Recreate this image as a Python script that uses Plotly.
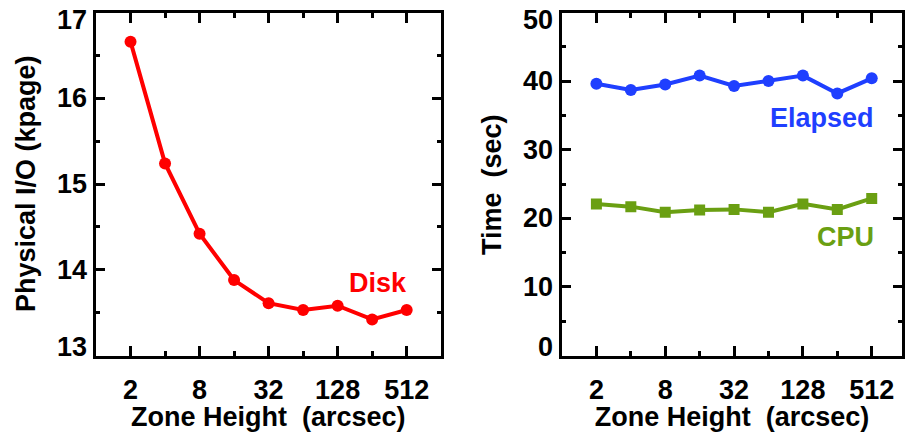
import math
import plotly.graph_objects as go

zone_height = [2, 4, 8, 16, 32, 64, 128, 256, 512]
disk_kpage = [16.66, 15.24, 14.42, 13.88, 13.61, 13.53, 13.58, 13.42, 13.53]
elapsed_sec = [39.6, 38.7, 39.5, 40.8, 39.3, 40.0, 40.8, 38.2, 40.4]
cpu_sec = [22.1, 21.7, 20.9, 21.2, 21.3, 20.9, 22.1, 21.3, 22.9]
x_tick_vals = [2, 8, 32, 128, 512]
x_tick_text = ["2", "8", "32", "128", "512"]
x_minor_vals = [4, 16, 64, 256]
disk_y_ticks = [13, 14, 15, 16, 17]
time_y_ticks = [0, 10, 20, 30, 40, 50]

RED = "#ff0000"
BLUE = "#1f3fff"
GREEN = "#6a9f12"
FONT = "Liberation Sans"
W, H = 905, 432
FS = 27

def bold(v):
    return ["<b>%s</b>" % t for t in v]

fig = go.Figure()
fig.add_trace(go.Scatter(x=zone_height, y=disk_kpage, mode="lines+markers",
                         line=dict(color=RED, width=4),
                         marker=dict(color=RED, size=12, symbol="circle"),
                         xaxis="x", yaxis="y", showlegend=False))
fig.add_trace(go.Scatter(x=zone_height, y=elapsed_sec, mode="lines+markers",
                         line=dict(color=BLUE, width=4),
                         marker=dict(color=BLUE, size=12, symbol="circle"),
                         xaxis="x2", yaxis="y2", showlegend=False))
fig.add_trace(go.Scatter(x=zone_height, y=cpu_sec, mode="lines+markers",
                         line=dict(color=GREEN, width=4),
                         marker=dict(color=GREEN, size=11, symbol="square"),
                         xaxis="x2", yaxis="y2", showlegend=False))

top, bottom = 12.5, 355.5
ydom = [(H - bottom) / H, (H - top) / H]
l2 = math.log10(2)

common_x = dict(type="log", tickmode="array", tickvals=x_tick_vals, ticktext=bold(x_tick_text),
                ticks="inside", ticklen=10, tickwidth=3, tickcolor="black",
                showline=True, linewidth=3, linecolor="black", mirror="ticks",
                showgrid=False, zeroline=False, automargin=False,
                ticklabeloverflow="allow",
                tickfont=dict(family=FONT, size=FS, color="black"),
                ticklabelstandoff=8,
                minor=dict(tickmode="array", tickvals=x_minor_vals, ticks="inside",
                           ticklen=5, tickwidth=3, tickcolor="black"),
                title=dict(text="<b>Zone Height  (arcsec)</b>",
                           font=dict(family=FONT, size=FS, color="black"), standoff=0))
common_y = dict(ticks="inside", ticklen=9, tickwidth=3, tickcolor="black",
                showline=True, linewidth=3, linecolor="black", mirror="ticks",
                showgrid=False, zeroline=False, automargin=False,
                showticklabels=False)

annotations = []
# y tick labels, end labels nudged inside the frame as in the original
for axis_id, ticks in (("y", disk_y_ticks), ("y2", time_y_ticks)):
    xdom = "x domain" if axis_id == "y" else "x2 domain"
    for i, v in enumerate(ticks):
        shift = 0
        if i == 0:
            shift = 9
        elif i == len(ticks) - 1:
            shift = -7.5
        annotations.append(dict(text="<b>%s</b>" % v, x=0, y=v, xref=xdom, yref=axis_id,
                                xanchor="right", yanchor="middle", xshift=-7, yshift=shift,
                                showarrow=False,
                                font=dict(family=FONT, size=FS, color="black")))
# y axis titles
annotations.append(dict(text="<b>Physical I/O (kpage)</b>", x=26 / W, y=(H - 184) / H,
                        xref="paper", yref="paper", textangle=-90, showarrow=False,
                        xanchor="center", yanchor="middle",
                        font=dict(family=FONT, size=FS, color="black")))
annotations.append(dict(text="<b>Time  (sec)</b>", x=492 / W, y=(H - 185) / H,
                        xref="paper", yref="paper", textangle=-90, showarrow=False,
                        xanchor="center", yanchor="middle",
                        font=dict(family=FONT, size=FS, color="black")))
# series labels
annotations += [
    dict(text="<b>Disk</b>", x=8.17 * l2, y=13.845, xref="x", yref="y",
         showarrow=False, font=dict(family=FONT, size=FS, color=RED)),
    dict(text="<b>Elapsed</b>", x=math.log10(512) + 0.04, y=34.6, xref="x2", yref="y2",
         xanchor="right", showarrow=False, font=dict(family=FONT, size=FS, color=BLUE)),
    dict(text="<b>CPU</b>", x=math.log10(512) + 0.04, y=17.3, xref="x2", yref="y2",
         xanchor="right", showarrow=False, font=dict(family=FONT, size=FS, color=GREEN)),
]

fig.update_layout(
    width=W, height=H, margin=dict(l=0, r=0, t=0, b=0, autoexpand=False),
    paper_bgcolor="white", plot_bgcolor="white",
    xaxis=dict(common_x, domain=[96 / W, 440.5 / W], range=[0, 9.98 * l2], anchor="y"),
    yaxis=dict(common_y, domain=ydom, range=[13, 17], tickvals=disk_y_ticks,
               minor=dict(dtick=0.5, ticks="inside", ticklen=4, tickwidth=3, tickcolor="black"),
               anchor="x"),
    xaxis2=dict(common_x, domain=[562 / W, 902 / W], range=[0, 9.88 * l2], anchor="y2"),
    yaxis2=dict(common_y, domain=ydom, range=[0, 50], tickvals=time_y_ticks,
                minor=dict(dtick=5, ticks="inside", ticklen=4, tickwidth=3, tickcolor="black"),
                anchor="x2"),
    annotations=annotations,
)

fig.write_html("out.html", config={"displayModeBar": False},
               post_script="document.body.style.margin='0px';")
